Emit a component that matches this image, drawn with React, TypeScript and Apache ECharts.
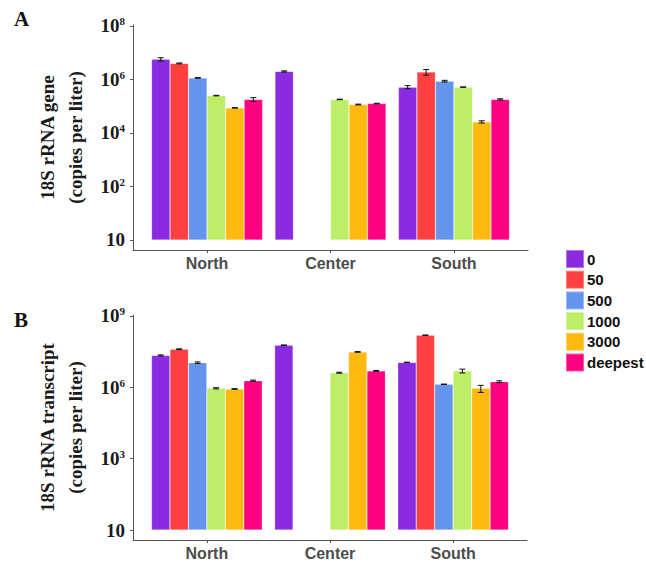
import React, { useEffect, useRef } from 'react';
import * as echarts from 'echarts';

const regions = ['North', 'Center', 'South'];
const depths = ['0', '50', '500', '1000', '3000', 'deepest'];
const colors = ['#8A2BE2', '#FF4040', '#6495ED', '#BCEE68', '#FFB90F', '#FF0080'];

// Panel A: 18S rRNA gene (copies per liter); rows = depth, columns = North, Center, South
const geneValues: (number | null)[][] = [
  [5.7e6, 2.0e6, 5.2e5],
  [4.0e6, null, 1.9e6],
  [1.15e6, null, 8.7e5],
  [2.5e5, 1.8e5, 5.2e5],
  [8.7e4, 1.16e5, 2.6e4],
  [1.8e5, 1.26e5, 1.8e5],
];
const geneErrors: number[][] = [
  [8e5, 1e5, 7e4],
  [1.5e5, 0, 4.5e5],
  [3e4, 0, 6e4],
  [6e3, 4e3, 1e4],
  [2e3, 4e3, 2.5e3],
  [3e4, 3e3, 1e4],
];

// Panel B: 18S rRNA transcript (copies per liter)
const transcriptValues: (number | null)[][] = [
  [2.2e7, 5.9e7, 1.12e7],
  [4.0e7, null, 1.55e8],
  [1.09e7, null, 1.34e6],
  [9.1e5, 4.1e6, 4.9e6],
  [8.5e5, 3.07e7, 9.1e5],
  [1.9e6, 4.9e6, 1.73e6],
];
const transcriptErrors: number[][] = [
  [1e6, 1.5e6, 2e5],
  [1.5e6, 0, 3e6],
  [8e5, 0, 3e4],
  [5e4, 2e5, 9e5],
  [3e4, 1e6, 3e5],
  [1e5, 2e5, 1.5e5],
];

const geneTicks = [1, 1e2, 1e4, 1e6, 1e8];
const transcriptTicks = [1, 1e3, 1e6, 1e9];

const serif = "'Liberation Serif', 'Times New Roman', serif";
const sans = "'Liberation Sans', Arial, sans-serif";

function yLabel(v: number) {
  const e = Math.round(Math.log10(v));
  return e === 0 ? '{b|10}' : `{b|10}{s|${e}}`;
}

function barSeries(values: (number | null)[][], xi: number) {
  return values.map((row, s) => ({
    type: 'bar',
    name: depths[s],
    xAxisIndex: xi,
    yAxisIndex: xi,
    barGap: '0%',
    barCategoryGap: '10%',
    itemStyle: { color: colors[s], borderColor: 'rgba(255,255,255,0.35)', borderWidth: 0.6 },
    data: row.map((v, r) => [r + 1, v == null ? '-' : v]),
  }));
}

function errorSeries(values: (number | null)[][], errors: number[][], xi: number) {
  const data: number[][] = [];
  values.forEach((row, s) =>
    row.forEach((v, r) => {
      if (v != null) data.push([r + 1, v - errors[s][r], v + errors[s][r], s]);
    })
  );
  return {
    type: 'custom',
    xAxisIndex: xi,
    yAxisIndex: xi,
    z: 10,
    silent: true,
    encode: { x: 0, y: [1, 2] },
    data,
    renderItem: (params: any, api: any) => {
      const x = api.value(0);
      const lo = api.value(1);
      const hi = api.value(2);
      const s = api.value(3);
      const band = api.coord([2, hi])[0] - api.coord([1, hi])[0];
      const bw = (band * 0.9) / 6;
      const cx = api.coord([x, hi])[0] + (s - 2.5) * bw;
      const yHi = api.coord([x, hi])[1];
      const yLo = api.coord([x, lo])[1];
      const cap = bw * 0.16;
      const st = { stroke: '#111', lineWidth: 1 };
      return {
        type: 'group',
        children: [
          { type: 'line', shape: { x1: cx, y1: yHi, x2: cx, y2: yLo }, style: st },
          { type: 'line', shape: { x1: cx - cap, y1: yHi, x2: cx + cap, y2: yHi }, style: st },
          { type: 'line', shape: { x1: cx - cap, y1: yLo, x2: cx + cap, y2: yLo }, style: st },
        ],
      };
    },
  };
}

function xAxisDef(gi: number) {
  return {
    type: 'value',
    gridIndex: gi,
    min: 0.4,
    max: 3.6,
    splitLine: { show: false },
    axisLine: { lineStyle: { color: '#555', width: 1 } },
    axisTick: { customValues: [1, 2, 3], length: 3, lineStyle: { color: '#555' } },
    axisLabel: {
      customValues: [1, 2, 3],
      formatter: (v: number) => regions[Math.round(v) - 1],
      fontFamily: sans,
      fontWeight: 'bold',
      fontSize: 16,
      color: '#4d4d4d',
      margin: 5,
    },
  };
}

function yAxisDef(gi: number, lo: number, hi: number, ticks: number[], name: string) {
  return {
    type: 'log',
    gridIndex: gi,
    min: Math.pow(10, lo),
    max: Math.pow(10, hi),
    splitLine: { show: false },
    axisLine: { lineStyle: { color: '#555', width: 1 } },
    axisTick: { customValues: ticks, length: 3, lineStyle: { color: '#555' } },
    axisLabel: {
      customValues: ticks,
      formatter: yLabel,
      margin: 8,
      rich: {
        b: { fontFamily: serif, fontWeight: 'bold', fontSize: 19, color: '#1a1a1a', lineHeight: 20 },
        s: { fontFamily: serif, fontWeight: 'bold', fontSize: 11, color: '#1a1a1a', verticalAlign: 'top', lineHeight: 20 },
      },
    },
    name,
    nameLocation: 'middle',
    nameRotate: 90,
    nameGap: 41,
    nameTextStyle: { fontFamily: serif, fontWeight: 'bold', fontSize: 19, lineHeight: 28, color: '#1a1a1a' },
  };
}

export default function App() {
  const ref = useRef<HTMLDivElement>(null);
  useEffect(() => {
    if (!ref.current) return;
    const chart = echarts.init(ref.current, null, { renderer: 'svg' });
    chart.setOption({
      animation: false,
      backgroundColor: '#fff',
      title: [
        { text: 'A', left: 9, top: 3, textStyle: { fontFamily: serif, fontWeight: 'bold', fontSize: 21, color: '#111' } },
        { text: 'B', left: 9, top: 304, textStyle: { fontFamily: serif, fontWeight: 'bold', fontSize: 21, color: '#111' } },
      ],
      legend: {
        data: depths,
        orient: 'vertical',
        left: 560,
        top: 244,
        icon: 'rect',
        itemWidth: 18,
        itemHeight: 18,
        itemGap: 0.7,
        textStyle: { fontFamily: sans, fontWeight: 'bold', fontSize: 15, color: '#111', padding: [0, 0, 0, -2] },
        selectedMode: false,
      },
      grid: [
        { left: 133, top: 25, width: 395, height: 225 },
        { left: 133, top: 315, width: 394, height: 225 },
      ],
      xAxis: [xAxisDef(0), xAxisDef(1)],
      yAxis: [
        yAxisDef(0, -0.374, 8.037, geneTicks, '18S rRNA gene\n(copies per liter)'),
        yAxisDef(1, -0.42, 9.04, transcriptTicks, '18S rRNA transcript\n(copies per liter)'),
      ],
      series: [
        ...barSeries(geneValues, 0),
        ...barSeries(transcriptValues, 1),
        errorSeries(geneValues, geneErrors, 0),
        errorSeries(transcriptValues, transcriptErrors, 1),
      ],
    });
    return () => chart.dispose();
  }, []);
  return <div ref={ref} style={{ position: 'absolute', left: 0, top: 0, width: 646, height: 562 }} />;
}
